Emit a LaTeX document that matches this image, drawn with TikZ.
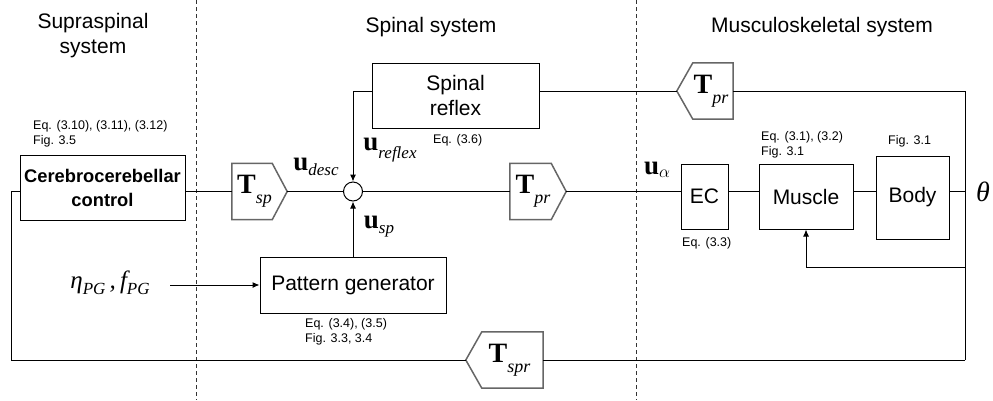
\documentclass[tikz,border=0pt]{standalone}
\usepackage{fontspec}
\setmainfont{Liberation Sans}
\newfontfamily\tms{Liberation Serif}
\usetikzlibrary{arrows.meta}

% block label: bold serif letter with an italic subscript
\newcommand{\blocklbl}[2]{{\tms\fontsize{28}{28}\selectfont\bfseries #1}\raisebox{-10pt}{\tms\itshape\fontsize{18}{18}\selectfont #2}}
% signal label: bold u with an italic subscript
\newcommand{\sigu}[3][5pt]{{\tms\fontsize{27}{27}\selectfont\bfseries u}\raisebox{-#1}{\tms\itshape\fontsize{17}{17}\selectfont #2}#3}

\begin{document}
\begin{tikzpicture}[x=1pt,y=-1pt,
  wire/.style={line width=1pt,black},
  arrw/.style={wire,-{Latex[length=7pt,width=6pt]}},
  blockbox/.style={draw,line width=1pt,inner sep=0pt,align=center,font=\fontsize{21}{25}\selectfont},
  transfer/.style={inner sep=0pt,minimum height=56pt},
  tfline/.style={draw=gray!80!black,line width=1.5pt,line join=miter},
  eqnote/.style={anchor=west,align=left,inner sep=0pt,font=\fontsize{12.5}{15}\selectfont},
  title/.style={anchor=base,inner sep=0pt,align=center,font=\fontsize{21}{25}\selectfont},
  divider/.style={line width=0.8pt,black!80,dash pattern=on 4pt off 3pt}]

\useasboundingbox (0,0) rectangle (993,400);

% section dividers
\draw[divider] (196,0) -- (196,400);
\draw[divider] (636,0) -- (636,400);

% section titles
\node[title] (t1) at (93,28) {Supraspinal};
\node[title] (t1b) at (93,53) {system};
\node[title] (t2) at (431,32) {Spinal system};
\node[title] (t3) at (822,32) {Musculoskeletal system};

% blocks
\node[blockbox,minimum width=165pt,minimum height=65pt,font=\fontsize{18.3}{24}\selectfont\bfseries]
  (cc) at (102.5,187.5) {Cerebrocerebellar\\control};
\node[blockbox,minimum width=167pt,minimum height=65pt] (sr) at (455.5,95.5) {Spinal\\reflex};
\node[blockbox,minimum width=186pt,minimum height=56pt] (pg) at (353,285) {Pattern generator};
\node[blockbox,minimum width=47pt,minimum height=65pt] (ec) at (704.5,196.5) {EC};
\node[blockbox,minimum width=94pt,minimum height=65pt] (mus) at (806,196.5) {Muscle};
\node[blockbox,minimum width=73pt,minimum height=83pt] (body) at (912.5,197.5) {Body};

% summing junction
\node[draw,circle,line width=1pt,minimum size=19pt,inner sep=0pt] (sum) at (353,191.5) {};

% transfer blocks (pentagon outlines drawn from the node anchors)
\node[transfer,minimum width=55pt] (tsp) at (259.5,191.5) {\hspace*{-10pt}\blocklbl{T}{sp}};
\node[transfer,minimum width=56pt] (tprm) at (538,191.5) {\hspace*{-10pt}\blocklbl{T}{pr}};
\node[transfer,minimum width=56pt] (tprt) at (705,91) {\hspace*{12pt}\blocklbl{T}{pr}};
\node[transfer,minimum width=77pt] (tspr) at (504.5,360) {\hspace*{10pt}\blocklbl{T}{spr}};

\foreach \n in {tsp,tprm}
  \draw[tfline] (\n.north west) -- ([xshift=-15pt]\n.north east) -- (\n.east)
     -- ([xshift=-15pt]\n.south east) -- (\n.south west) -- cycle;
\foreach \n in {tprt,tspr}
  \draw[tfline] (\n.north east) -- ([xshift=16pt]\n.north west) -- (\n.west)
     -- ([xshift=16pt]\n.south west) -- (\n.south east) -- cycle;

% signal labels
\node[inner sep=0pt] (udesc) at (316,167) {\sigu{desc}{}};
\node[inner sep=0pt] (uref) at (390,150) {\sigu[8pt]{reflex}{}};
\node[inner sep=0pt] (usp) at (379,227) {\sigu{sp}{}};
\node[inner sep=0pt] (ualpha) at (657,170) {\sigu[3pt]{$\alpha$}{}};
\node[inner sep=0pt] (theta) at (983,191.5) {\tms\itshape\fontsize{28}{28}\selectfont θ};
\node[inner sep=0pt] (eta) at (110,283)
  {\tms\itshape\fontsize{25}{25}\selectfont η\raisebox{-6pt}{\fontsize{17}{17}\selectfont PG}\,,\,f\raisebox{-6pt}{\fontsize{17}{17}\selectfont PG}};

% notes
\node[eqnote] (ncc) at (33,134) {Eq. (3.10), (3.11), (3.12)\\Fig. 3.5};
\node[eqnote] (nsr) at (433,140) {Eq. (3.6)};
\node[eqnote] (npg) at (305,332) {Eq. (3.4), (3.5)\\Fig. 3.3, 3.4};
\node[eqnote] (nec) at (682,243) {Eq. (3.3)};
\node[eqnote] (nmus) at (761,144.5) {Eq. (3.1), (3.2)\\Fig. 3.1};
\node[eqnote] (nbody) at (888,141) {Fig. 3.1};

% wiring points
\coordinate (rt) at (965,91);
\coordinate (rm) at (965,267);
\coordinate (rb) at (965,360);
\coordinate (lb) at (11,360);
\coordinate (lt) at (11,191.5);
\coordinate (pgin) at (170,285);

% forward path
\draw[wire] (cc.east |- tsp.west) -- (tsp.west);
\draw[wire] (tsp.east) -- (sum.west);
\draw[wire] (sum.east) -- (tprm.west);
\draw[wire] (tprm.east) -- (ec.west |- tprm.east);
\draw[wire] (ec.east |- tprm.east) -- (mus.west |- tprm.east);
\draw[wire] (mus.east |- tprm.east) -- (body.west |- tprm.east);
\draw[wire] (body.east |- tprm.east) -- (rm |- tprm.east);

% feedback paths
\draw[wire] (rt) -- (rb);
\draw[wire] (tprt.east) -- (rt);
\draw[wire] (tprt.west) -- (sr.east |- tprt.west);
\draw[arrw] (sr.west |- tprt.west) -| (sum.north);
\draw[arrw] (rm) -| (mus.south);
\draw[wire] (rb) -- (tspr.east);
\draw[wire] (tspr.west) -- (lb) -- (lt) -- (cc.west |- lt);

% pattern generator
\draw[arrw] (pg.north) -- (sum.south);
\draw[arrw] (pgin) -- (pg.west);

\end{tikzpicture}
\end{document}
